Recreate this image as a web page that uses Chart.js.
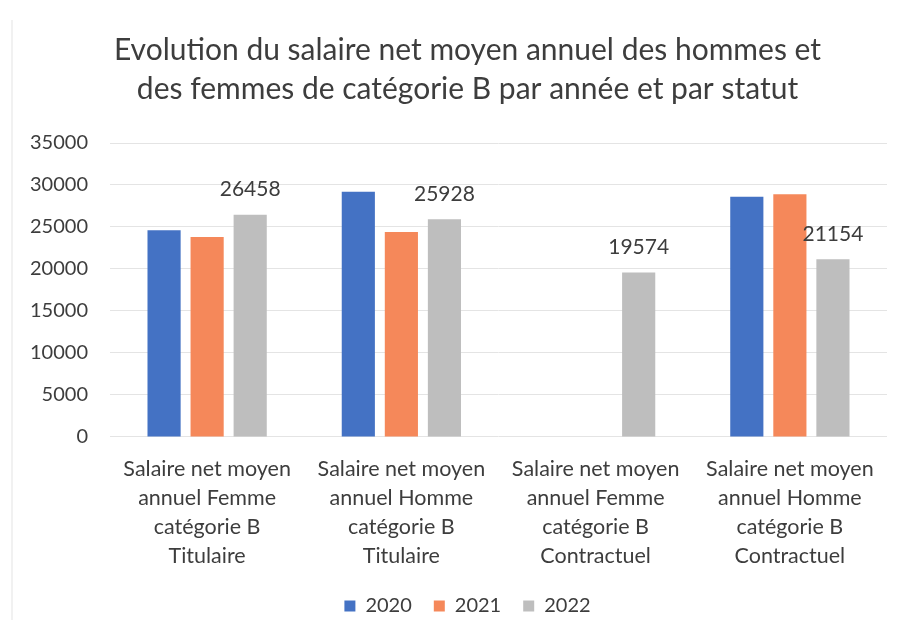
<!DOCTYPE html>
<html>
<head>
<meta charset="utf-8">
<script src="https://cdn.jsdelivr.net/npm/chart.js@4"></script>
<style>
  html, body { margin: 0; padding: 0; background: #ffffff; overflow: hidden; }
  #wrap { position: relative; width: 901px; height: 638px; overflow: hidden; }
  #edge { position: absolute; left: 11px; top: 20px; width: 2px; height: 600px; background: #f1f1f1; }
  #c { position: absolute; left: 0; top: 0; }
</style>
</head>
<body>
<div id="wrap">
  <div id="edge"></div>
  <canvas id="c" width="901" height="638"></canvas>
</div>
<script>
// ---- data ----
const titleLines = [
  "Evolution du salaire net moyen annuel des hommes et",
  "des femmes de catégorie B par année et par statut"
];
const categories = [
  ["Salaire net moyen", "annuel Femme", "catégorie B", "Titulaire"],
  ["Salaire net moyen", "annuel Homme", "catégorie B", "Titulaire"],
  ["Salaire net moyen", "annuel Femme", "catégorie B", "Contractuel"],
  ["Salaire net moyen", "annuel Homme", "catégorie B", "Contractuel"]
];
const seriesNames = ["2020", "2021", "2022"];
const values2020 = [24600, 29200, null, 28600];
const values2021 = [23800, 24400, null, 28900];
const values2022 = [26458, 25928, 19574, 21154];
const yTicks = [0, 5000, 10000, 15000, 20000, 25000, 30000, 35000];

const FONT = "Lato, 'Open Sans', sans-serif";
const TEXT = "#3d3d3d";

const valueLabels = {
  id: "valueLabels",
  afterDatasetsDraw(chart) {
    const ctx = chart.ctx;
    const meta = chart.getDatasetMeta(2);
    const data = chart.data.datasets[2].data;
    ctx.save();
    ctx.font = "21px " + FONT;
    ctx.fillStyle = TEXT;
    ctx.textAlign = "center";
    ctx.textBaseline = "middle";
    meta.data.forEach((bar, i) => {
      if (data[i] == null) return;
      ctx.fillText(String(data[i]), bar.x, bar.y - 25);
    });
    ctx.restore();
  }
};

// centre title and legend on the same axis as the reference (shifted right)
const shiftCentered = {
  id: "shiftCentered",
  afterLayout(chart) {
    if (chart.titleBlock) chart.titleBlock.left += 48;
    if (chart.legend) chart.legend.left += 48;
  }
};

new Chart(document.getElementById("c"), {
  type: "bar",
  data: {
    labels: categories,
    datasets: [
      { label: seriesNames[0], data: values2020, backgroundColor: "#4472C4" },
      { label: seriesNames[1], data: values2021, backgroundColor: "#F5885A" },
      { label: seriesNames[2], data: values2022, backgroundColor: "#BEBEBE" }
    ]
  },
  options: {
    responsive: false,
    animation: false,
    devicePixelRatio: 1,
    layout: { padding: { top: 31, right: 14, bottom: 12, left: 0 } },
    datasets: {
      bar: { categoryPercentage: 0.665, barPercentage: 0.77 }
    },
    plugins: {
      title: {
        display: true,
        text: titleLines,
        color: TEXT,
        font: { family: FONT, size: 30, weight: "normal", lineHeight: 1.3 },
        padding: { top: 0, bottom: 34 }
      },
      legend: {
        position: "bottom",
        labels: {
          color: TEXT,
          font: { family: FONT, size: 20 },
          boxWidth: 11,
          boxHeight: 11,
          padding: 22
        }
      },
      tooltip: { enabled: false }
    },
    scales: {
      x: {
        afterFit(scale) { scale.height -= 7; },
        grid: { display: false },
        border: { display: false },
        ticks: {
          color: TEXT,
          font: { family: FONT, size: 21.5, lineHeight: 1.35 },
          padding: 10,
          maxRotation: 0,
          autoSkip: false
        }
      },
      y: {
        min: 0,
        max: 35000,
        afterFit(scale) { scale.width = 110; },
        afterBuildTicks(scale) { scale.ticks = yTicks.map(v => ({ value: v })); },
        grid: { color: "#e4e4e4", drawTicks: false },
        border: { display: false },
        ticks: {
          color: TEXT,
          font: { family: FONT, size: 20 },
          padding: 22,
          callback: (v) => String(v)
        }
      }
    }
  },
  plugins: [valueLabels, shiftCentered]
});
</script>
</body>
</html>
